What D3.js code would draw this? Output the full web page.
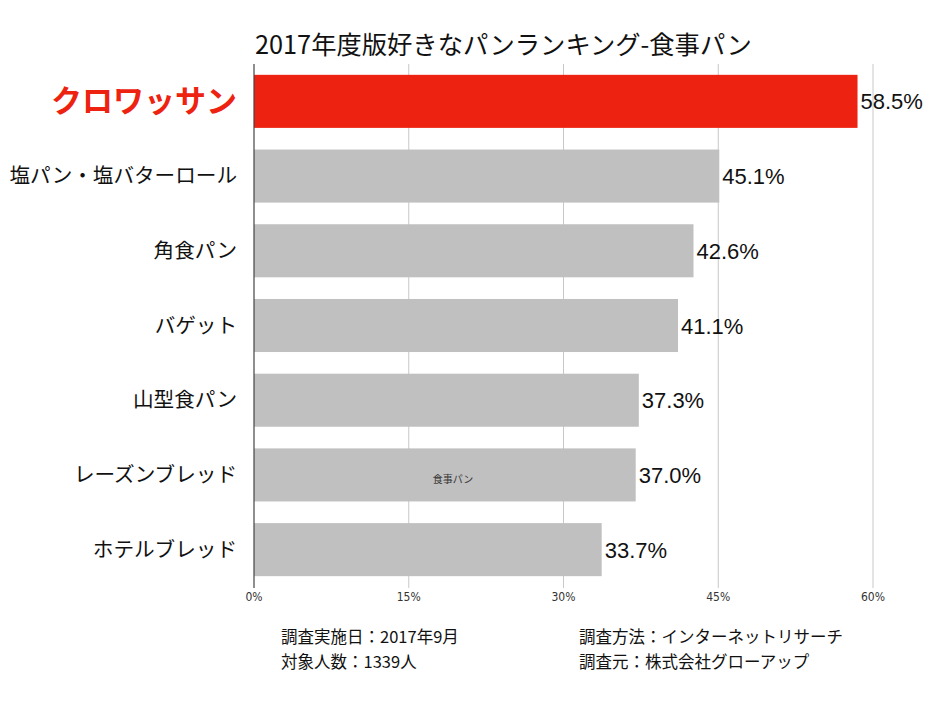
<!DOCTYPE html>
<html><head><meta charset="utf-8">
<script src="https://cdn.jsdelivr.net/npm/d3@7"></script>
<style>body{margin:0;background:#fff;} text{font-family:"Noto Sans CJK JP","Noto Sans",sans-serif;}</style>
</head><body>
<svg id="c" width="935" height="701"></svg>
<script>
const categories = ["クロワッサン","塩パン・塩バターロール","角食パン","バゲット","山型食パン","レーズンブレッド","ホテルブレッド"];
const values = [58.5,45.1,42.6,41.1,37.3,37.0,33.7];
const ticks = [0,15,30,45,60];
const title = "2017年度版好きなパンランキング-食事パン";
const notes = [["調査実施日：2017年9月","調査方法：インターネットリサーチ"],["対象人数：1339人","調査元：株式会社グローアップ"]];

const svg = d3.select("#c");
const x = d3.scaleLinear().domain([0,60]).range([254,873]);
const y = d3.scaleBand().domain(categories).range([64,587]).paddingInner(0.29).paddingOuter(0.145);

svg.append("text").attr("x",255).attr("y",54).attr("font-size",25.3).attr("fill","#111").text(title);

// grid
svg.append("g").selectAll("line").data(ticks.slice(1)).join("line")
  .attr("x1",d=>x(d)).attr("x2",d=>x(d)).attr("y1",64).attr("y2",588)
  .attr("stroke","#c8c8c8").attr("stroke-width",1);

svg.append("g").selectAll("rect").data(values).join("rect")
  .attr("x",x(0)).attr("y",(d,i)=>y(categories[i]))
  .attr("width",d=>x(d)-x(0)).attr("height",y.bandwidth())
  .attr("fill",(d,i)=>i===0?"#ee2211":"#c0c0c0");

svg.append("line").attr("x1",x(0)).attr("x2",x(0)).attr("y1",64).attr("y2",588).attr("stroke","#444").attr("stroke-width",1.2);

// tick labels
svg.append("g").selectAll("text").data(ticks).join("text")
  .attr("x",d=>x(d)).attr("y",601).attr("text-anchor","middle")
  .attr("font-size",12).attr("fill","#333").style("font-family","'Liberation Sans Narrow','DejaVu Sans Condensed',sans-serif").text(d=>d+"%");

// value labels
svg.append("g").selectAll("text").data(values).join("text")
  .attr("x",d=>x(d)+3).attr("y",(d,i)=>y(categories[i])+y.bandwidth()/2+8)
  .attr("font-size",22).attr("fill","#111").style("font-family","'Liberation Sans',Arial,sans-serif").text(d=>d.toFixed(1)+"%");

// category labels
svg.append("g").selectAll("text").data(categories).join("text")
  .attr("x",237).attr("y",(d,i)=>y(d)+y.bandwidth()/2+(i===0?11:7))
  .attr("text-anchor","end")
  .attr("font-size",(d,i)=>i===0?31:20.6).attr("font-weight",(d,i)=>i===0?"bold":"normal")
  .attr("fill",(d,i)=>i===0?"#ee2211":"#111").text(d=>d);

svg.append("text").attr("x",453).attr("y",483).attr("text-anchor","middle").attr("font-size",10).attr("fill","#333").text("食事パン");

notes.forEach((row,r)=>{
  row.forEach((t,c)=>{
    svg.append("text").attr("x",c===0?281:579).attr("y",643+r*25).attr("font-size",16.5).attr("fill","#111").text(t);
  });
});
</script>
</body></html>
